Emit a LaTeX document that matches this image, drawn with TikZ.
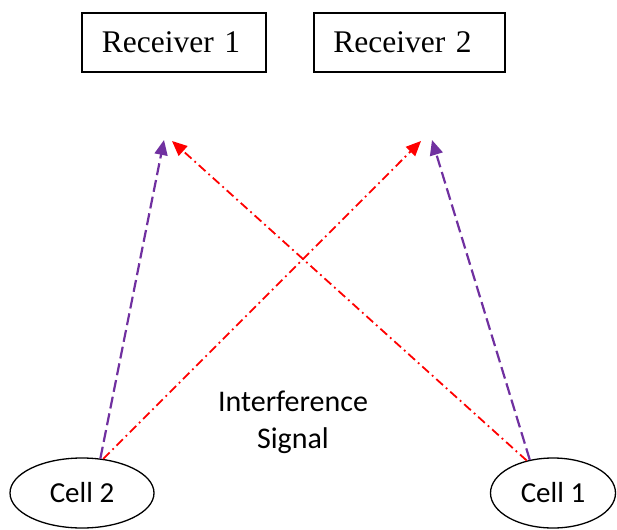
\documentclass[tikz,border=0pt]{standalone}
\usepackage{fontspec}
\setmainfont{Liberation Serif}
\newfontfamily\calib{Carlito}
\usetikzlibrary{shapes.geometric,arrows.meta}
\definecolor{officepurple}{RGB}{112,48,160}
\tikzset{
  recv/.style={draw, line width=1.3pt, minimum height=59pt, inner sep=0pt, font=\fontsize{31.5}{36}\selectfont},
  cellnode/.style={draw, ellipse, line width=1.3pt, minimum height=70pt, inner sep=0pt, font=\calib\fontsize{29}{34}\selectfont},
  purplearrow/.style={draw=officepurple, line width=2.2pt, dash pattern=on 12pt off 5pt, -{Triangle[length=15pt,width=13pt]}},
  redarrow/.style={draw=red, line width=1.8pt, dash pattern=on 9pt off 4pt on 1.8pt off 4pt, -{Triangle[length=15pt,width=13pt]}},
  lbl/.style={font=\calib\fontsize{30}{40}\selectfont, align=center}
}
\begin{document}
\begin{tikzpicture}[x=1pt,y=-1pt]
\useasboundingbox (0,0) rectangle (617,529);
\node[recv, minimum width=184pt, text width=180pt, align=center] (r1) at (174,42.5) {\hspace*{-6pt}Receiver 1};
\node[recv, minimum width=191pt, text width=187pt, align=center] (r2) at (409.5,42.5) {\hspace*{-14pt}Receiver 2};
\node[cellnode, minimum width=144pt] (c2) at (82,493) {Cell 2};
\node[cellnode, minimum width=125pt] (c1) at (553,493) {Cell 1};
\coordinate (p1) at (164,140);
\coordinate (q1) at (172,141);
\coordinate (q2) at (421,141);
\coordinate (p2) at (432,140);
\draw[purplearrow] (c2.62) -- (p1);
\draw[redarrow] (c2.58) -- (q2);
\draw[purplearrow] (c1.125) -- (p2);
\draw[redarrow] (c1.129) -- (q1);
\node[lbl] (i1) at (293,401) {Interference};
\node[lbl] (i2) at (293,441) {Signal};
\end{tikzpicture}
\end{document}
